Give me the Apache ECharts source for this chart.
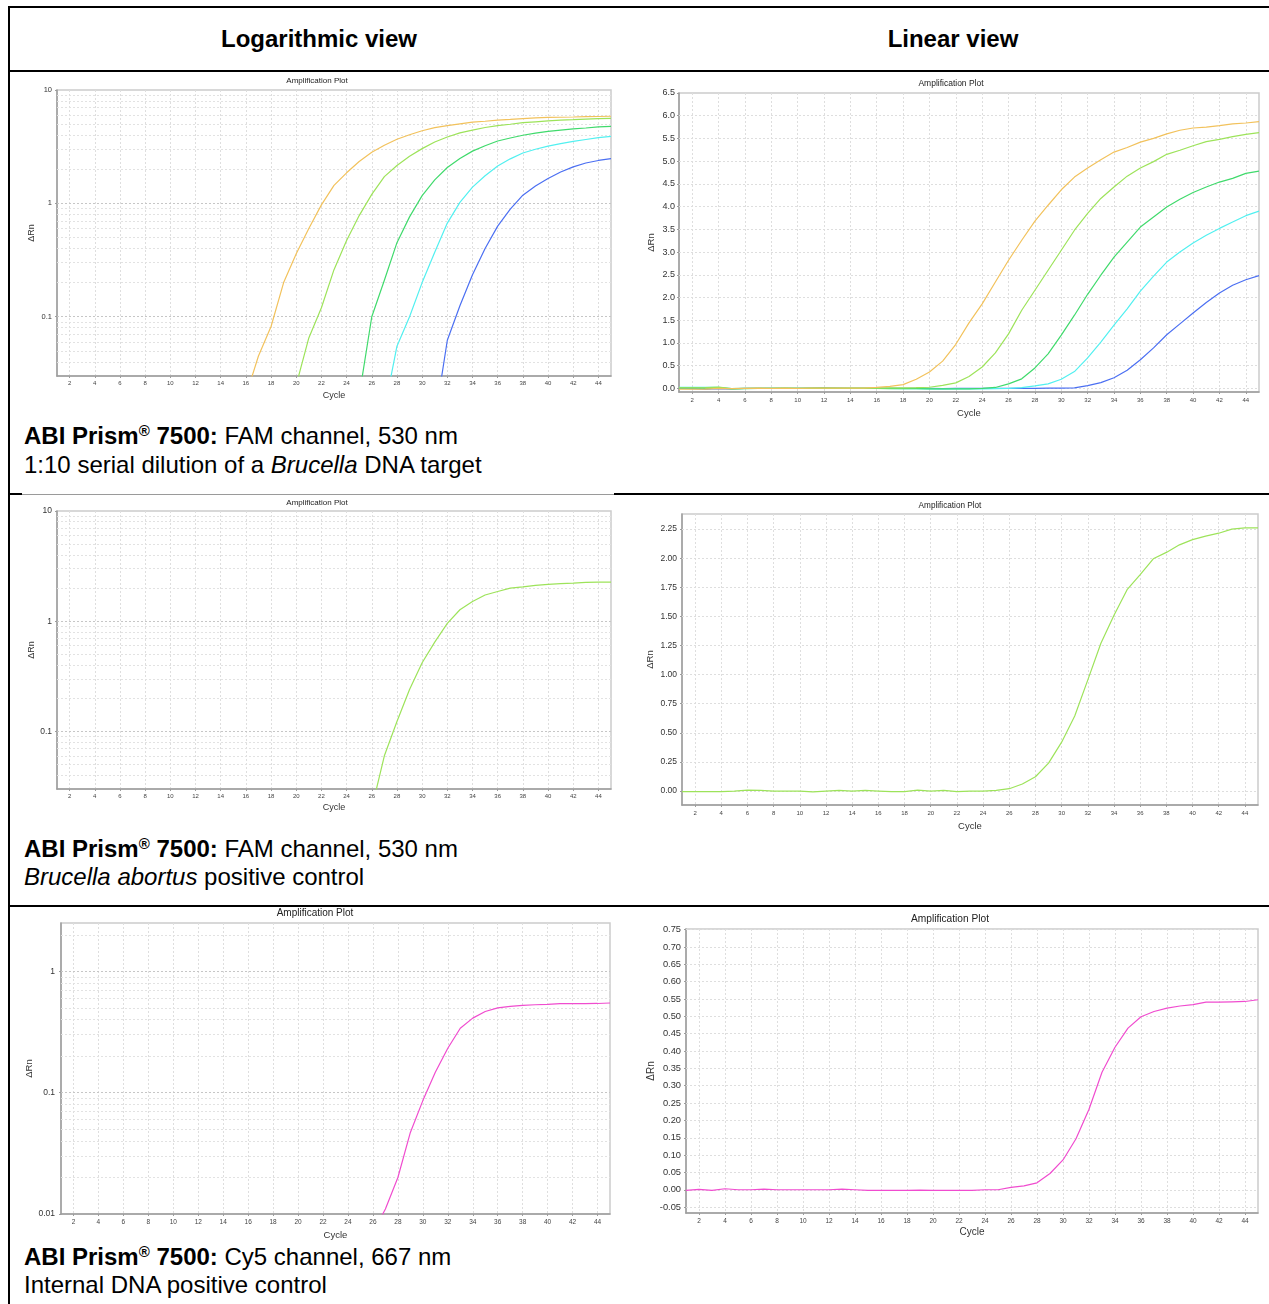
<!DOCTYPE html>
<html>
<head>
<meta charset="utf-8">
<script src="https://cdn.jsdelivr.net/npm/echarts@6/dist/echarts.min.js"></script>
<style>
html,body{margin:0;padding:0;background:#fff;}
body{width:1269px;height:1304px;position:relative;overflow:hidden;font-family:"Liberation Sans",Arial,sans-serif;}
.hl{position:absolute;background:#000;}
.hdr{position:absolute;top:24px;font-size:24px;font-weight:bold;line-height:30px;transform:translateX(-50%);white-space:nowrap;color:#000;}
.cap{position:absolute;left:24px;font-size:24px;color:#000;white-space:nowrap;}
.reg{font-size:15px;position:relative;top:-8px;line-height:0;}
#chart{position:absolute;left:0;top:0;width:1269px;height:1304px;}
</style>
</head>
<body>
<div class="hl" style="left:8px;top:6px;width:1261px;height:2px;"></div>
<div class="hl" style="left:8px;top:6px;width:2px;height:1298px;"></div>
<div class="hl" style="left:8px;top:70px;width:1261px;height:2px;"></div>
<div class="hl" style="left:8px;top:493px;width:14px;height:2px;"></div>
<div class="hl" style="left:22px;top:494px;width:592px;height:1px;background:#9a9a9a;"></div>
<div class="hl" style="left:614px;top:493px;width:655px;height:2px;"></div>
<div class="hl" style="left:8px;top:905px;width:1261px;height:2px;"></div>

<div class="hdr" style="left:319px;">Logarithmic view</div>
<div class="hdr" style="left:953px;">Linear view</div>

<div class="cap" style="top:421px;line-height:29px;"><b>ABI Prism<span class="reg">®</span> 7500:</b> FAM channel, 530 nm<br>1:10 serial dilution of a <i>Brucella</i> DNA target</div>
<div class="cap" style="top:835px;line-height:28px;"><b>ABI Prism<span class="reg">®</span> 7500:</b> FAM channel, 530 nm<br><i>Brucella abortus</i> positive control</div>
<div class="cap" style="top:1243px;line-height:28px;"><b>ABI Prism<span class="reg">®</span> 7500:</b> Cy5 channel, 667 nm<br>Internal DNA positive control</div>

<div id="chart"></div>
<script>
// ---------------- DATA ----------------
const CYCLES = ['1','2','3','4','5','6','7','8','9','10','11','12','13','14','15','16','17','18','19','20','21','22','23','24','25','26','27','28','29','30','31','32','33','34','35','36','37','38','39','40','41','42','43','44','45'];

// 1:10 serial dilution of a Brucella DNA target (FAM), delta Rn per cycle
const FAM_DIL_1 = [-0.02,-0.02,-0.015,0.0,-0.005,0.0,0.005,0.0,0.005,0.0,0.005,0.005,0.005,0.005,0.005,0.02,0.045,0.082,0.2,0.36,0.6,0.97,1.44,1.86,2.34,2.82,3.26,3.68,4.03,4.37,4.65,4.85,5.03,5.2,5.3,5.42,5.5,5.6,5.68,5.73,5.75,5.78,5.82,5.84,5.87];
const FAM_DIL_2 = [0.01,0.01,0.015,0.028,-0.005,0.0,0.0,0.0,0.005,0.0,0.005,0.005,0.005,0.005,0.005,0.005,0.01,0.01,0.015,0.025,0.065,0.12,0.26,0.47,0.78,1.2,1.72,2.16,2.6,3.04,3.48,3.85,4.18,4.43,4.67,4.85,4.99,5.15,5.24,5.34,5.43,5.48,5.54,5.59,5.63];
const FAM_DIL_3 = [0.01,0.01,0.005,0.01,-0.01,-0.005,0.0,0.0,0.0,0.0,0.0,0.005,0.0,0.0,0.0,0.0,-0.005,-0.005,-0.005,-0.01,-0.01,-0.01,-0.01,0.0,0.02,0.1,0.21,0.45,0.76,1.17,1.61,2.07,2.49,2.89,3.22,3.55,3.77,3.99,4.16,4.31,4.43,4.54,4.62,4.73,4.78];
const FAM_DIL_4 = [0.02,0.02,0.02,0.02,-0.005,0.0,0.0,0.0,0.005,0.0,0.0,0.0,0.0,0.0,0.0,0.0,0.0,-0.005,-0.005,-0.01,-0.01,-0.01,-0.01,-0.01,-0.005,0.0,0.015,0.055,0.1,0.2,0.37,0.67,1.02,1.39,1.75,2.14,2.47,2.78,3.0,3.2,3.37,3.52,3.66,3.8,3.9];
const FAM_DIL_5 = [0.0,-0.005,-0.015,-0.005,-0.01,0.0,0.0,0.0,0.0,0.0,0.005,0.01,0.005,0.0,0.0,0.0,0.0,0.0,0.0,0.0,-0.005,0.0,0.0,0.0,0.0,0.0,0.0,0.0,0.005,0.007,0.012,0.062,0.125,0.235,0.4,0.63,0.89,1.18,1.42,1.66,1.89,2.1,2.27,2.39,2.48];

// Brucella abortus positive control (FAM)
const FAM_POS_CTRL = [-0.005,-0.005,-0.005,-0.005,0.0,0.008,0.005,0.0,0.0,0.0,-0.008,0.0,0.005,0.0,0.005,0.0,-0.005,-0.005,0.008,0.0,0.005,-0.005,0.0,0.0,0.005,0.02,0.06,0.123,0.24,0.42,0.645,0.955,1.27,1.51,1.73,1.86,1.995,2.05,2.115,2.16,2.19,2.215,2.25,2.26,2.26];

// Internal DNA positive control (Cy5)
const CY5_IPC = [-0.002,0.001,-0.002,0.003,0.0,0.0,0.002,0.0,0.0,0.0,0.0,0.0,0.002,0.0,-0.002,-0.002,-0.002,-0.002,-0.001,-0.002,-0.002,-0.002,-0.002,0.0,0.0,0.007,0.011,0.02,0.047,0.086,0.147,0.232,0.339,0.411,0.466,0.499,0.514,0.524,0.53,0.534,0.541,0.541,0.542,0.543,0.548];

// tick labels / gridline values
const LOG_TICKS_FAM = [0.1, 1, 10];
const LOG_TICKS_CY5 = [0.01, 0.1, 1];
const LOG_MINOR_FAM = [0.04,0.05,0.06,0.07,0.08,0.09,0.2,0.3,0.4,0.5,0.6,0.7,0.8,0.9,2,3,4,5,6,7,8,9];
const LOG_MINOR_CY5 = [0.02,0.03,0.04,0.05,0.06,0.07,0.08,0.09,0.2,0.3,0.4,0.5,0.6,0.7,0.8,0.9,2];
const LIN_TICKS_DIL = [0.0,0.5,1.0,1.5,2.0,2.5,3.0,3.5,4.0,4.5,5.0,5.5,6.0,6.5];
const LIN_TICKS_POS = [0.0,0.25,0.5,0.75,1.0,1.25,1.5,1.75,2.0,2.25];
const LIN_TICKS_IPC = [-0.05,0.0,0.05,0.1,0.15,0.2,0.25,0.3,0.35,0.4,0.45,0.5,0.55,0.6,0.65,0.7,0.75];

// ---------------- STYLE / LAYOUT ----------------
const FONT = '"Liberation Sans", Arial, sans-serif';
const C_ORANGE = '#f2c25c', C_LGREEN = '#9de35a', C_GREEN = '#40da6c', C_CYAN = '#52f0f0', C_BLUE = '#4b6ff2', C_MAG = '#f04ccf';
const evenOnly = function (index, value) { return Number(value) % 2 === 0; };

// drawing order: most dilute first so the strongest sample is on top (as in the reference)
const DIL_SERIES = [[FAM_DIL_5,C_BLUE],[FAM_DIL_4,C_CYAN],[FAM_DIL_3,C_GREEN],[FAM_DIL_2,C_LGREEN],[FAM_DIL_1,C_ORANGE]];

const panels = [
  {g:[57,90,554,286], log:true, min:0.03, max:10, ticks:LOG_TICKS_FAM, minor:LOG_MINOR_FAM, dec:null,
   series:DIL_SERIES,
   title:[317,81,8], yFs:7.5, xFs:6, nameFs:9, xGap:15, yGap:21, xMargin:4, yMargin:5},
  {g:[679,93,580,299], log:false, min:-0.08, max:6.5, ticks:LIN_TICKS_DIL, dec:1,
   series:DIL_SERIES,
   title:[951,84,8.5], yFs:9, xFs:6, nameFs:9.5, xGap:16, yGap:23, xMargin:5, yMargin:4},
  {g:[57,511,554,278], log:true, min:0.03, max:10, ticks:LOG_TICKS_FAM, minor:LOG_MINOR_FAM, dec:null,
   series:[[FAM_POS_CTRL,C_LGREEN]],
   title:[317,503,8], yFs:8.5, xFs:6, nameFs:9, xGap:14.5, yGap:21, xMargin:4.5, yMargin:5},
  {g:[682,514,576,291], log:false, min:-0.12, max:2.38, ticks:LIN_TICKS_POS, dec:2,
   series:[[FAM_POS_CTRL,C_LGREEN]],
   title:[950,506,8.2], yFs:8.5, xFs:6, nameFs:9.5, xGap:16.5, yGap:27, xMargin:5, yMargin:5},
  {g:[61,923,549,291], log:true, min:0.01, max:2.5, ticks:LOG_TICKS_CY5, minor:LOG_MINOR_CY5, dec:null,
   series:[[CY5_IPC,C_MAG]],
   title:[315,913,10], yFs:8.5, xFs:6.5, nameFs:9.5, xGap:16, yGap:26, xMargin:5, yMargin:6},
  {g:[686,929,572,284], log:false, min:-0.067, max:0.752, ticks:LIN_TICKS_IPC, dec:2,
   series:[[CY5_IPC,C_MAG]],
   title:[950,919,10.2], yFs:9.3, xFs:6.5, nameFs:10, xGap:14.5, yGap:30, xMargin:4.5, yMargin:5}
];

const grids = [], xAxes = [], yAxes = [], series = [], graphics = [];

panels.forEach(function (p, i) {
  grids.push({left:p.g[0], top:p.g[1], width:p.g[2], height:p.g[3], show:true,
    borderColor:'#cccccc', borderWidth:1.5, backgroundColor:'rgba(0,0,0,0)', containLabel:false, outerBoundsMode:'none'});
  xAxes.push({gridIndex:i, type:'category', data:CYCLES, boundaryGap:false,
    name:'Cycle', nameLocation:'middle', nameGap:p.xGap,
    nameTextStyle:{fontFamily:FONT, fontSize:p.nameFs, color:'#333'},
    axisLine:{show:true, onZero:false, lineStyle:{color:'#9c9c9c', width:1.5}},
    axisTick:{show:true, interval:evenOnly, length:2, lineStyle:{color:'#9c9c9c', width:1}},
    axisLabel:{show:true, interval:evenOnly, margin:p.xMargin, fontFamily:FONT, fontSize:p.xFs, color:'#444'},
    splitLine:{show:true, interval:evenOnly, lineStyle:{color:'#dedede', type:[2,2], width:1}}});
  const fmt = p.dec == null ? function (v) { return String(v); } : function (v) { return Number(v).toFixed(p.dec); };
  yAxes.push({gridIndex:i, type:p.log ? 'log' : 'value', logBase:10, min:p.min, max:p.max, scale:true,
    name:'ΔRn', nameLocation:'middle', nameGap:p.yGap,
    nameTextStyle:{fontFamily:FONT, fontSize:p.nameFs, color:'#333'},
    axisLine:{show:true, onZero:false, lineStyle:{color:'#9c9c9c', width:1.5}},
    axisTick:{show:true, customValues:p.ticks, length:2, lineStyle:{color:'#9c9c9c', width:1}},
    axisLabel:{show:true, customValues:p.ticks, formatter:fmt, margin:p.yMargin, fontFamily:FONT, fontSize:p.yFs, color:'#333'},
    splitLine:{show:false}, minorTick:{show:false}, minorSplitLine:{show:false}});

  // horizontal grid lines, placed through the y scale
  const inside = function (v) { return v > p.min && v < p.max; };
  const mlData = [];
  p.ticks.filter(inside).forEach(function (v) {
    mlData.push({yAxis:v, lineStyle:{color: p.log ? '#c6c6c6' : '#dedede', type:[2,2], width:1}});
  });
  if (p.log) {
    p.minor.filter(inside).forEach(function (v) {
      mlData.push({yAxis:v, lineStyle:{color:'#e2e2e2', type:[2,2], width:1}});
    });
  }
  series.push({type:'line', xAxisIndex:i, yAxisIndex:i, data:[], silent:true, z:1, animation:false,
    markLine:{silent:true, z:1, symbol:['none','none'], animation:false, label:{show:false},
      emphasis:{disabled:true}, data:mlData}});

  p.series.forEach(function (s) {
    const arr = s[0], color = s[1];
    series.push({type:'line', xAxisIndex:i, yAxisIndex:i,
      data: p.log ? arr.map(function (v) { return v > 0 ? v : null; }) : arr,
      showSymbol:false, symbol:'none', smooth:false, clip:true, connectNulls:false,
      lineStyle:{color:color, width:1.2}, itemStyle:{color:color},
      z:10, animation:false, silent:true});
  });

  graphics.push({type:'text', x:p.title[0], y:p.title[1], silent:true,
    style:{text:'Amplification Plot', fill:'#222', font:p.title[2] + 'px ' + FONT,
      textAlign:'center', textVerticalAlign:'middle'}});
});

const chart = echarts.init(document.getElementById('chart'), null, {renderer:'canvas', width:1269, height:1304});
chart.setOption({
  animation:false,
  backgroundColor:'rgba(0,0,0,0)',
  grid:grids, xAxis:xAxes, yAxis:yAxes, series:series, graphic:graphics,
  tooltip:{show:false}, legend:{show:false}
});
</script>
</body>
</html>
